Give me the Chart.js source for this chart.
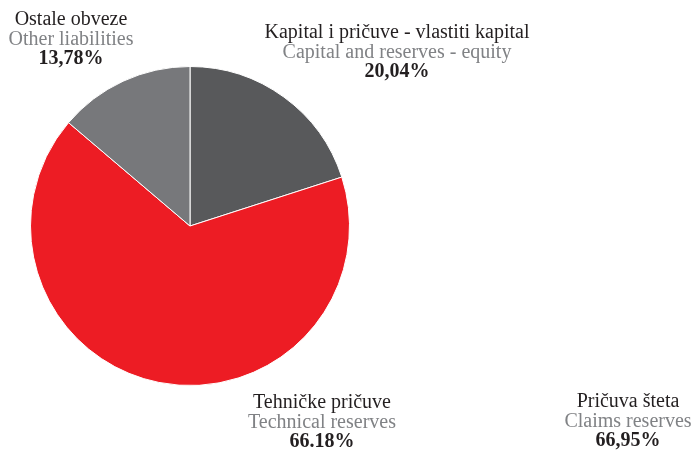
<!DOCTYPE html>
<html>
<head>
<meta charset="utf-8">
<script src="https://cdn.jsdelivr.net/npm/chart.js@4/dist/chart.umd.min.js"></script>
<style>
  html, body { margin: 0; padding: 0; background: #fff; }
  #wrap { width: 694px; height: 450px; position: relative; }
</style>
</head>
<body>
<div id="wrap"><canvas id="myChart"></canvas></div>
<script>
"use strict";

// ========== DATA ==========
var labelsHr = ["Kapital i pričuve - vlastiti kapital", "Tehničke pričuve", "Ostale obveze"];
var labelsEn = ["Capital and reserves - equity", "Technical reserves", "Other liabilities"];
var shares = [20.04, 66.18, 13.78];
var shareText = ["20,04%", "66.18%", "13,78%"];
var sliceColors = ["#58595b", "#ed1c24", "#77787b"];

// extra label with no slice of its own
var extraHr = "Pričuva šteta";
var extraEn = "Claims reserves";
var extraText = "66,95%";

// label anchor points (centre x, first baseline y)
var labelAnchors = [[397, 38], [322, 408], [71, 25]];
var extraAnchor = [628, 407];

// ========== LABEL PLUGIN ==========
function drawLabel(ctx, x, y, hr, en, pct) {
  ctx.textAlign = "center";
  ctx.textBaseline = "alphabetic";
  ctx.font = "20px 'Liberation Serif', 'Times New Roman', serif";
  ctx.fillStyle = "#231f20";
  ctx.fillText(hr, x, y);
  ctx.fillStyle = "#808285";
  ctx.fillText(en, x, y + 20);
  ctx.font = "bold 20px 'Liberation Serif', 'Times New Roman', serif";
  ctx.fillStyle = "#231f20";
  ctx.fillText(pct, x, y + 39);
}

var sliceLabels = {
  id: "sliceLabels",
  afterDraw: function (chart) {
    var ctx = chart.ctx;
    ctx.save();
    for (var i = 0; i < shares.length; i++) {
      drawLabel(ctx, labelAnchors[i][0], labelAnchors[i][1], labelsHr[i], labelsEn[i], shareText[i]);
    }
    drawLabel(ctx, extraAnchor[0], extraAnchor[1], extraHr, extraEn, extraText);
    ctx.restore();
  }
};

// ========== PIE ==========
var ctx = document.getElementById("myChart").getContext("2d");
new Chart(ctx, {
  type: "pie",
  data: {
    labels: labelsEn,
    datasets: [
      {
        data: shares,
        backgroundColor: sliceColors,
        borderColor: "#ffffff",
        borderWidth: 1
      }
    ]
  },
  options: {
    responsive: true,
    maintainAspectRatio: false,
    animation: false,
    layout: {
      padding: { left: 30, right: 344, top: 66, bottom: 64 }
    },
    plugins: {
      legend: { display: false },
      tooltip: { enabled: false }
    }
  },
  plugins: [sliceLabels]
});
</script>
</body>
</html>
